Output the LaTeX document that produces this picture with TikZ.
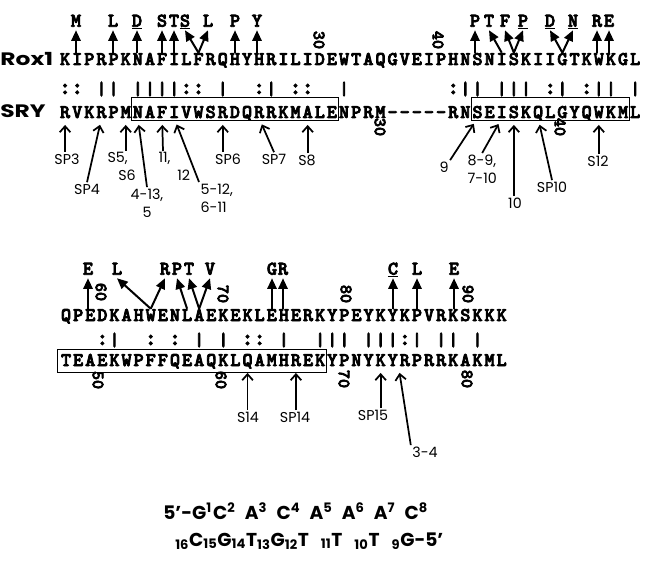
\documentclass[tikz,border=0pt]{standalone}
\usepackage{fontspec}
\usetikzlibrary{arrows.meta}
\newfontfamily\seqfont{lmmonolt10-bold.otf}[FakeBold=4]
\newfontfamily\sitefont{Poppins}
\tikzset{
  resid/.style={font=\seqfont\fontsize{14.5}{14.5}\selectfont, inner sep=0pt,
    minimum width=9.1pt, text height=9pt, text depth=0pt, anchor=base},
  mutlbl/.style={font=\seqfont\fontsize{14.5}{14.5}\selectfont, inner sep=0.5pt,
    text height=9pt, text depth=2pt},
  resnum/.style={font=\seqfont\fontsize{13}{13}\selectfont, inner sep=0pt, rotate=-90},
  idbar/.style={font=\seqfont\fontsize{14}{14}\selectfont, inner sep=0pt},
  simdots/.style={font=\seqfont\fontsize{17}{17}\selectfont, inner sep=0pt},
  seqname/.style={font=\sitefont\bfseries\fontsize{13.5}{13.5}\selectfont, inner sep=0pt,
    anchor=base west, xscale=1.3},
  sitelbl/.style={font=\sitefont\fontsize{10.7}{13.5}\selectfont, inner sep=1pt, align=left},
  upar/.style={-{Triangle[length=8pt,width=7pt]}, line width=1.5pt},
  dnar/.style={-{Straight Barb[length=4.5pt,width=8pt]}, line width=1.3pt, shorten >=5pt},
  hmgbox/.style={draw, line width=0.9pt},
  dna/.style={font=\sitefont\bfseries\fontsize{14}{14}\selectfont, inner sep=0pt, anchor=base west},
}
\begin{document}
\begin{tikzpicture}[x=0.75pt,y=-0.75pt]
\useasboundingbox (0,0) rectangle (655,566);

% ---- first block: Rox1 / SRY
\node[seqname] (rox) at (0,66) {Rox1};
\node[seqname] (sry) at (0,118) {SRY};
\foreach \r [count=\i] in {K,I,P,R,P,K,N,A,F,I,L,F,R,Q,H,Y,H,R,I,L,I,D,E,W,
    T,A,Q,G,V,E,I,P,H,N,S,N,I,S,K,I,I,G,T,K,W,K,G,L}
  \node[resid] (a\i) at ({59+(\i-0.5)*12.13},65) {\r};
\foreach \r [count=\i] in {R,V,K,R,P,M,N,A,F,I,V,W,S,R,D,Q,R,R,K,M,A,L,E,N,
    P,R,M,-,-,-,-,-,R,N,S,E,I,S,K,Q,L,G,Y,Q,W,K,M,L}
  \node[resid] (b\i) at ({59+(\i-0.5)*12.13},118) {\r};
\foreach \i in {4,5,7,8,9,10,14,18,24,34,35,37,38,39,42,45,46,48}
  \node[idbar] (ia\i) at ({59+(\i-0.5)*12.13},89) {|};
\foreach \i in {1,2,11,12,17,20,21,33,41,44}
  \node[simdots] (sa\i) at ({59+(\i-0.5)*12.13},89) {:};
\draw[hmgbox] ([yshift=6pt]b7.north west) rectangle ([yshift=-1.5pt]b23.south east);
\draw[hmgbox] ([yshift=6pt]b35.north west) rectangle ([yshift=-1.5pt]b47.south east);

% numbering
\node[resnum] (n30) at (319,40) {30};
\node[resnum] (n40) at (438,40) {40};
\node[resnum] (k30) at (380,127) {30};
\node[resnum] (k40) at (560,127) {40};

% substitutions above Rox1
\node[mutlbl] (m1) at (76,22) {M};
\node[mutlbl] (m2) at (113,22) {L};
\node[mutlbl] (m3) at (137,22) {\underline{D}};
\node[mutlbl] (m4) at (162,22) {S};
\node[mutlbl] (m5) at (174,22) {T};
\node[mutlbl] (m6) at (185,22) {\underline{S}};
\node[mutlbl] (m7) at (208,22) {L};
\node[mutlbl] (m8) at (235,22) {P};
\node[mutlbl] (m9) at (257,22) {Y};
\node[mutlbl] (m10) at (475,22) {P};
\node[mutlbl] (m11) at (489,22) {T};
\node[mutlbl] (m12) at (505,22) {F};
\node[mutlbl] (m13) at (523,22) {\underline{P}};
\node[mutlbl] (m14) at (550,22) {\underline{D}};
\node[mutlbl] (m15) at (573,22) {\underline{N}};
\node[mutlbl] (m16) at (597,22) {R};
\node[mutlbl] (m17) at (609,22) {E};
\foreach \m/\r in {m1/a2,m2/a5,m3/a7,m4/a9,m5/a10,m8/a15,m9/a17,m10/a35,m16/a45,m17/a46}
  \draw[upar] (\m.south |- \r.north) -- (\m.south);
\foreach \m/\r in {m6/a12,m7/a12,m11/a37,m12/a38,m13/a38,m14/a42,m15/a42}
  \draw[upar] (\r.north) -- (\m.south);

% contact sites below SRY
\node[sitelbl] (sp3) at (67,159) {SP3};
\node[sitelbl] (sp4) at (87,189) {SP4};
\node[sitelbl, anchor=north west] (s56) at (106,151) {S5,\\\hspace*{8pt}S6};
\node[sitelbl, align=center] (r413) at (147,203) {4-13,\\5};
\node[sitelbl, anchor=north west] (r1112) at (157,151) {11,\\\hspace*{14pt}12};
\node[sitelbl, anchor=north west] (r512) at (199,182) {5-12,\\6-11};
\node[sitelbl] (sp6) at (228,159) {SP6};
\node[sitelbl] (sp7) at (274,159) {SP7};
\node[sitelbl] (s8) at (307,160) {S8};
\node[sitelbl] (r9) at (444,167) {9};
\node[sitelbl, anchor=north west] (r89) at (466,153) {8-9,\\7-10};
\node[sitelbl] (r10) at (515,203) {10};
\node[sitelbl] (sp10) at (552,187) {SP10};
\node[sitelbl] (s12) at (598,161) {S12};
\foreach \s/\r in {sp3/b1,s56/b6,sp6/b14,s8/b21,r10/b38,s12/b45}
  \draw[dnar] (\r.south |- \s.north) -- (\r.south);
\draw[dnar] (sp4.north) -- (b4.south);
\draw[dnar] (r413.north) -- (b7.south);
\draw[dnar] (r1112.north west) ++(6,0) -- (b9.south);
\draw[dnar] (r512.north west) -- (b10.south);
\draw[dnar] (sp7.north) -- (b17.south);
\draw[dnar] (r9.north east) -- (b35.south);
\draw[dnar] (r89.north) -- (b37.south);
\draw[dnar] (sp10.north) -- (b40.south);

% ---- second block
\foreach \r [count=\i] in {Q,P,E,D,K,A,H,W,E,N,L,A,E,K,E,K,L,E,H,E,
    R,K,Y,P,E,Y,K,Y,K,P,V,R,K,S,K,K,K}
  \node[resid] (c\i) at ({60+(\i-0.5)*12.1},321) {\r};
\foreach \r [count=\i] in {T,E,A,E,K,W,P,F,F,Q,E,A,Q,K,L,Q,A,M,H,R,
    E,K,Y,P,N,Y,K,Y,R,P,R,R,K,A,K,M,L}
  \node[resid] (d\i) at ({60+(\i-0.5)*12.1},366) {\r};
\foreach \i in {5,12,14,19,22,23,24,26,27,28,30,32,33,35}
  \node[idbar] (ib\i) at ({60+(\i-0.5)*12.1},340) {|};
\foreach \i in {4,8,10,16,17,29}
  \node[simdots] (sb\i) at ({60+(\i-0.5)*12.1},340) {:};
\draw[hmgbox] ([xshift=-1.5pt,yshift=3pt]d1.north west) rectangle ([yshift=-4.5pt]d22.south east);

\node[resnum] (n60) at (101,292) {60};
\node[resnum] (n70) at (223,294) {70};
\node[resnum] (n80) at (346,294) {80};
\node[resnum] (n90) at (468,294) {90};
\node[resnum] (k50) at (98,380) {50};
\node[resnum] (k60) at (221,380) {60};
\node[resnum] (k70) at (344,379) {70};
\node[resnum] (k80) at (467,379) {80};

\node[mutlbl] (e1) at (88,270) {E};
\node[mutlbl] (e2) at (117,270) {L};
\node[mutlbl] (e3) at (165,270) {R};
\node[mutlbl] (e4) at (177,270) {P};
\node[mutlbl] (e5) at (189,270) {T};
\node[mutlbl] (e6) at (210,270) {V};
\node[mutlbl] (e7) at (272,270) {G};
\node[mutlbl] (e8) at (283,270) {R};
\node[mutlbl] (e9) at (393,270) {\underline{C}};
\node[mutlbl] (e10) at (417,270) {L};
\node[mutlbl] (e11) at (454,270) {E};
\foreach \m/\r in {e1/c3,e7/c18,e8/c19,e9/c28,e10/c30,e11/c33}
  \draw[upar] (\m.south |- \r.north) -- (\m.south);
\foreach \m/\r in {e2/c8,e3/c8,e4/c11,e5/c12,e6/c12}
  \draw[upar] (\r.north) -- (\m.south);

\node[sitelbl] (s14) at (248,417) {S14};
\node[sitelbl] (sp14) at (295,417) {SP14};
\node[sitelbl] (sp15) at (373,415) {SP15};
\node[sitelbl] (r34) at (425,452) {3-4};
\foreach \s/\r in {s14/d16,sp14/d20,sp15/d27}
  \draw[dnar] (\r.south |- \s.north) -- (\r.south);
\draw[dnar] (r34.north west) -- (d29.south west);

% ---- DNA site
\node[dna] (top) at (163,519) {5\textquoteright-G\textsuperscript{1}\hspace{1pt}C\textsuperscript{2}\hspace{7pt}%
  A\textsuperscript{3}\hspace{7pt}C\textsuperscript{4}\hspace{7pt}A\textsuperscript{5}\hspace{7pt}%
  A\textsuperscript{6}\hspace{7pt}A\textsuperscript{7}\hspace{7pt}C\textsuperscript{8}};
\node[dna] (bot) at (175,546) {\textsubscript{16}C\textsubscript{15}G\textsubscript{14}T%
  \textsubscript{13}G\textsubscript{12}T\hspace{9pt}\textsubscript{11}T\hspace{9pt}\textsubscript{10}T\hspace{9pt}%
  \textsubscript{9}G-5\textquoteright};
\end{tikzpicture}
\end{document}
